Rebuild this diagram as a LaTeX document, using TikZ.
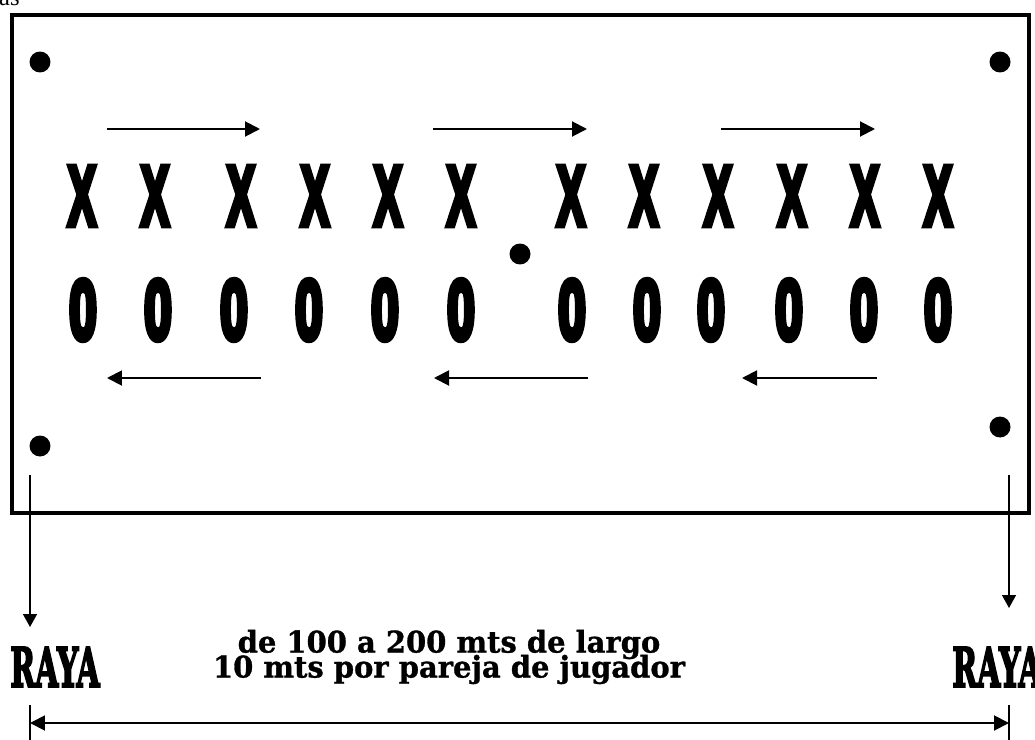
\documentclass[tikz,border=0pt]{standalone}
\usepackage{fontspec}
\usetikzlibrary{arrows.meta}
\newfontfamily\playerfont[FakeBold=8]{Liberation Sans}
\newfontfamily\rayafont[FakeBold=4]{DejaVu Serif}
\newfontfamily\notefont[FakeBold=1]{DejaVu Serif}
\newfontfamily\capfont{Liberation Serif}
\newcommand{\tightlines}{\lineskiplimit=-20pt\lineskip=0pt\relax}

\begin{document}
\begin{tikzpicture}[x=0.02cm,y=-0.02cm,
  player/.style={inner sep=0pt,font=\playerfont\bfseries\fontsize{48}{48}\selectfont},
  xplayer/.style={player,xscale=0.5},
  oplayer/.style={player,xscale=0.59},
  spot/.style={circle,fill,inner sep=0pt,minimum size=0.42cm},
  flow/.style={line width=1.1pt,-{Triangle[length=0.3cm,width=0.3cm]}},
  raya/.style={inner sep=0pt,font=\rayafont\bfseries\fontsize{31}{31}\selectfont,xscale=0.55}]
  \useasboundingbox (0,0) rectangle (1035,740);
  \node[anchor=base east,inner sep=0pt,font=\capfont\fontsize{14}{14}\selectfont] (hdr) at (20,6) {as};
  \draw[line width=2.3pt] (12,15) rectangle (1029,513);
  \node[spot] (c1) at (40,62) {};
  \node[spot] (c2) at (1000,62) {};
  \node[spot] (c3) at (40,446) {};
  \node[spot] (c4) at (1000,427) {};
  \node[spot] (c0) at (520,254) {};
  \foreach \px [count=\i] in {82,155,241,315,388,461,571,644,718,792,865,938}
    \node[xplayer] (x\i) at (\px,196) {X};
  \foreach \px [count=\i] in {83,158,234,309,385,461,572,647,711,789,864,938}
    \node[oplayer] (o\i) at (\px,310) {0};
  \draw[flow] (107,129) -- (260,129);
  \draw[flow] (433,129) -- (587,129);
  \draw[flow] (721,129) -- (875,129);
  \draw[flow] (261,378) -- (107,378);
  \draw[flow] (588,378) -- (434,378);
  \draw[flow] (877,378) -- (742,378);
  \draw[line width=0.85pt,-{Triangle[length=0.26cm,width=0.28cm]}] (30,475) -- (30,627);
  \draw[line width=0.85pt,-{Triangle[length=0.26cm,width=0.28cm]}] (1009,475) -- (1009,608);
  \node[raya] (rayaL) at (55,667) {RAYA};
  \node[raya] (rayaR) at (997,667) {RAYA};
  \node[align=center,inner sep=0pt,xscale=0.97,font={\notefont\bfseries\fontsize{17}{14.2}\selectfont\tightlines}] (info) at (449,657) {de 100 a 200 mts de largo\\10 mts por pareja de jugador};
  \draw[line width=0.85pt] (30,705) -- (30,740);
  \draw[line width=0.85pt] (1009,705) -- (1009,740);
  \draw[line width=1.1pt,{Triangle[length=0.3cm,width=0.3cm]}-{Triangle[length=0.3cm,width=0.3cm]}] (30,723) -- (1009,723);
\end{tikzpicture}
\end{document}
